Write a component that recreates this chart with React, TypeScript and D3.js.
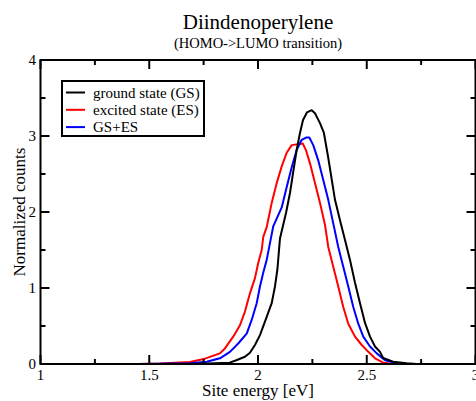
import * as d3 from 'd3';
import { useEffect, useRef } from 'react';

// site energy [eV] and normalized counts
const gsEnergy = [1.45, 1.7, 1.87, 1.9, 1.94, 1.963, 1.986, 2.009, 2.04, 2.063, 2.078, 2.089, 2.101, 2.129, 2.147, 2.161, 2.178, 2.193, 2.207, 2.225, 2.247, 2.262, 2.285, 2.303, 2.322, 2.354, 2.377, 2.4, 2.423, 2.446, 2.469, 2.492, 2.515, 2.538, 2.561, 2.575, 2.621, 2.684, 2.73, 2.8];
const gsCounts = [0, 0, 0.018, 0.05, 0.096, 0.149, 0.25, 0.38, 0.62, 0.8, 1.02, 1.24, 1.65, 1.99, 2.25, 2.51, 2.82, 3.04, 3.21, 3.31, 3.34, 3.3, 3.17, 3.04, 2.73, 2.16, 1.89, 1.63, 1.37, 1.07, 0.8, 0.54, 0.36, 0.23, 0.16, 0.08, 0.03, 0.01, 0, 0];

const esEnergy = [1.45, 1.549, 1.687, 1.756, 1.825, 1.848, 1.886, 1.917, 1.94, 1.963, 1.986, 2.001, 2.017, 2.024, 2.04, 2.063, 2.086, 2.109, 2.132, 2.155, 2.206, 2.221, 2.239, 2.262, 2.285, 2.308, 2.323, 2.346, 2.369, 2.392, 2.415, 2.446, 2.477, 2.507, 2.538, 2.576, 2.621, 2.8];
const esCounts = [0, 0.007, 0.026, 0.07, 0.14, 0.205, 0.36, 0.51, 0.69, 0.93, 1.13, 1.33, 1.5, 1.67, 1.8, 2.12, 2.38, 2.6, 2.78, 2.88, 2.9, 2.81, 2.64, 2.38, 2.12, 1.83, 1.54, 1.28, 1.02, 0.75, 0.53, 0.36, 0.25, 0.16, 0.075, 0.017, 0, 0];

const sumEnergy = [1.45, 1.687, 1.764, 1.825, 1.871, 1.909, 1.948, 1.971, 1.994, 2.009, 2.024, 2.04, 2.055, 2.07, 2.109, 2.132, 2.155, 2.178, 2.201, 2.221, 2.236, 2.254, 2.277, 2.3, 2.323, 2.346, 2.369, 2.392, 2.415, 2.438, 2.461, 2.484, 2.515, 2.546, 2.584, 2.63, 2.684, 2.8];
const sumCounts = [0, 0.01, 0.03, 0.075, 0.16, 0.27, 0.4, 0.58, 0.8, 1.02, 1.2, 1.37, 1.59, 1.81, 2.06, 2.33, 2.59, 2.82, 2.95, 2.98, 2.98, 2.88, 2.68, 2.42, 2.16, 1.85, 1.54, 1.28, 1.02, 0.75, 0.53, 0.36, 0.23, 0.14, 0.05, 0.017, 0, 0];

const seriesNames = ['ground state (GS)', 'excited state (ES)', 'GS+ES'];
const seriesColors = ['#000000', '#ff0000', '#0000ff'];

const xMajor = [1, 1.5, 2, 2.5, 3];
const xMinor = [1.25, 1.75, 2.25, 2.75];
const yMajor = [0, 1, 2, 3, 4];
const yMinor = [0.5, 1.5, 2.5, 3.5];

const FONT = "'Liberation Serif', 'DejaVu Serif', serif";

const App = () => {
  const svgRef = useRef<SVGSVGElement>(null);

  useEffect(() => {
    const svg = d3.select(svgRef.current);
    svg.selectAll('*').remove();

    const left = 40.5, right = 475.5, top = 60, bottom = 364;

    const x = d3.scaleLinear().domain([1, 3]).range([left, right]);
    const y = d3.scaleLinear().domain([0, 4]).range([bottom, top]);

    const series = [
      { e: gsEnergy, c: gsCounts },
      { e: esEnergy, c: esCounts },
      { e: sumEnergy, c: sumCounts },
    ];

    const line = d3.line<[number, number]>()
      .x(d => x(d[0]))
      .y(d => y(d[1]));

    // draw order: ES, GS+ES, GS on top
    [1, 2, 0].forEach(i => {
      const pts = series[i].e.map((v, j) => [v, series[i].c[j]] as [number, number]);
      svg.append('path')
        .attr('d', line(pts))
        .attr('fill', 'none')
        .attr('stroke', seriesColors[i])
        .attr('stroke-width', 2)
        .attr('stroke-linejoin', 'round');
    });

    // frame
    svg.append('rect')
      .attr('x', left).attr('y', top)
      .attr('width', right - left).attr('height', bottom - top)
      .attr('fill', 'none').attr('stroke', '#000').attr('stroke-width', 2);

    const tickG = svg.append('g').attr('stroke', '#000').attr('stroke-width', 2);
    const addXTicks = (vals: number[], len: number) => {
      vals.forEach(v => {
        tickG.append('line').attr('x1', x(v)).attr('x2', x(v)).attr('y1', bottom).attr('y2', bottom - len);
        tickG.append('line').attr('x1', x(v)).attr('x2', x(v)).attr('y1', top).attr('y2', top + len);
      });
    };
    const addYTicks = (vals: number[], len: number) => {
      vals.forEach(v => {
        tickG.append('line').attr('x1', left).attr('x2', left + len).attr('y1', y(v)).attr('y2', y(v));
        tickG.append('line').attr('x1', right).attr('x2', right - len).attr('y1', y(v)).attr('y2', y(v));
      });
    };
    addXTicks(xMajor, 9);
    addXTicks(xMinor, 5);
    addYTicks(yMajor, 9);
    addYTicks(yMinor, 5);

    const txt = (sel: any, size: number) =>
      sel.attr('font-family', FONT).attr('font-size', size).attr('fill', '#000');

    txt(svg.append('g').selectAll('text')
      .data(xMajor)
      .enter()
      .append('text')
      .attr('x', d => x(d))
      .attr('y', 380)
      .attr('text-anchor', 'middle')
      .text(d => d3.format('')(d)), 15);

    txt(svg.append('g').selectAll('text')
      .data(yMajor)
      .enter()
      .append('text')
      .attr('x', 36)
      .attr('y', d => y(d) + 5)
      .attr('text-anchor', 'end')
      .text(d => d), 15);

    txt(svg.append('text')
      .attr('x', (left + right) / 2).attr('y', 396)
      .attr('text-anchor', 'middle')
      .text('Site energy [eV]'), 17);

    txt(svg.append('text')
      .attr('transform', `translate(25, ${(top + bottom) / 2}) rotate(-90)`)
      .attr('text-anchor', 'middle')
      .text('Normalized counts'), 17);

    txt(svg.append('text')
      .attr('x', (left + right) / 2).attr('y', 29)
      .attr('text-anchor', 'middle')
      .text('Diindenoperylene'), 21);

    txt(svg.append('text')
      .attr('x', (left + right) / 2).attr('y', 48)
      .attr('text-anchor', 'middle')
      .text('(HOMO->LUMO transition)'), 14.5);

    // legend
    const lg = svg.append('g');
    lg.append('rect')
      .attr('x', 62).attr('y', 81).attr('width', 142).attr('height', 55)
      .attr('fill', '#fff').attr('stroke', '#000').attr('stroke-width', 2);
    seriesNames.forEach((name, i) => {
      const ly = 92.5 + i * 17.3;
      lg.append('line')
        .attr('x1', 66).attr('x2', 85).attr('y1', ly).attr('y2', ly)
        .attr('stroke', seriesColors[i]).attr('stroke-width', 2);
      txt(lg.append('text')
        .attr('x', 93).attr('y', ly + 5)
        .text(name), 15);
    });
  }, []);

  return (
    <svg ref={svgRef} width={476} height={401} style={{ position: 'absolute', left: 0, top: 0, background: '#fff' }}></svg>
  );
};

export default App;
